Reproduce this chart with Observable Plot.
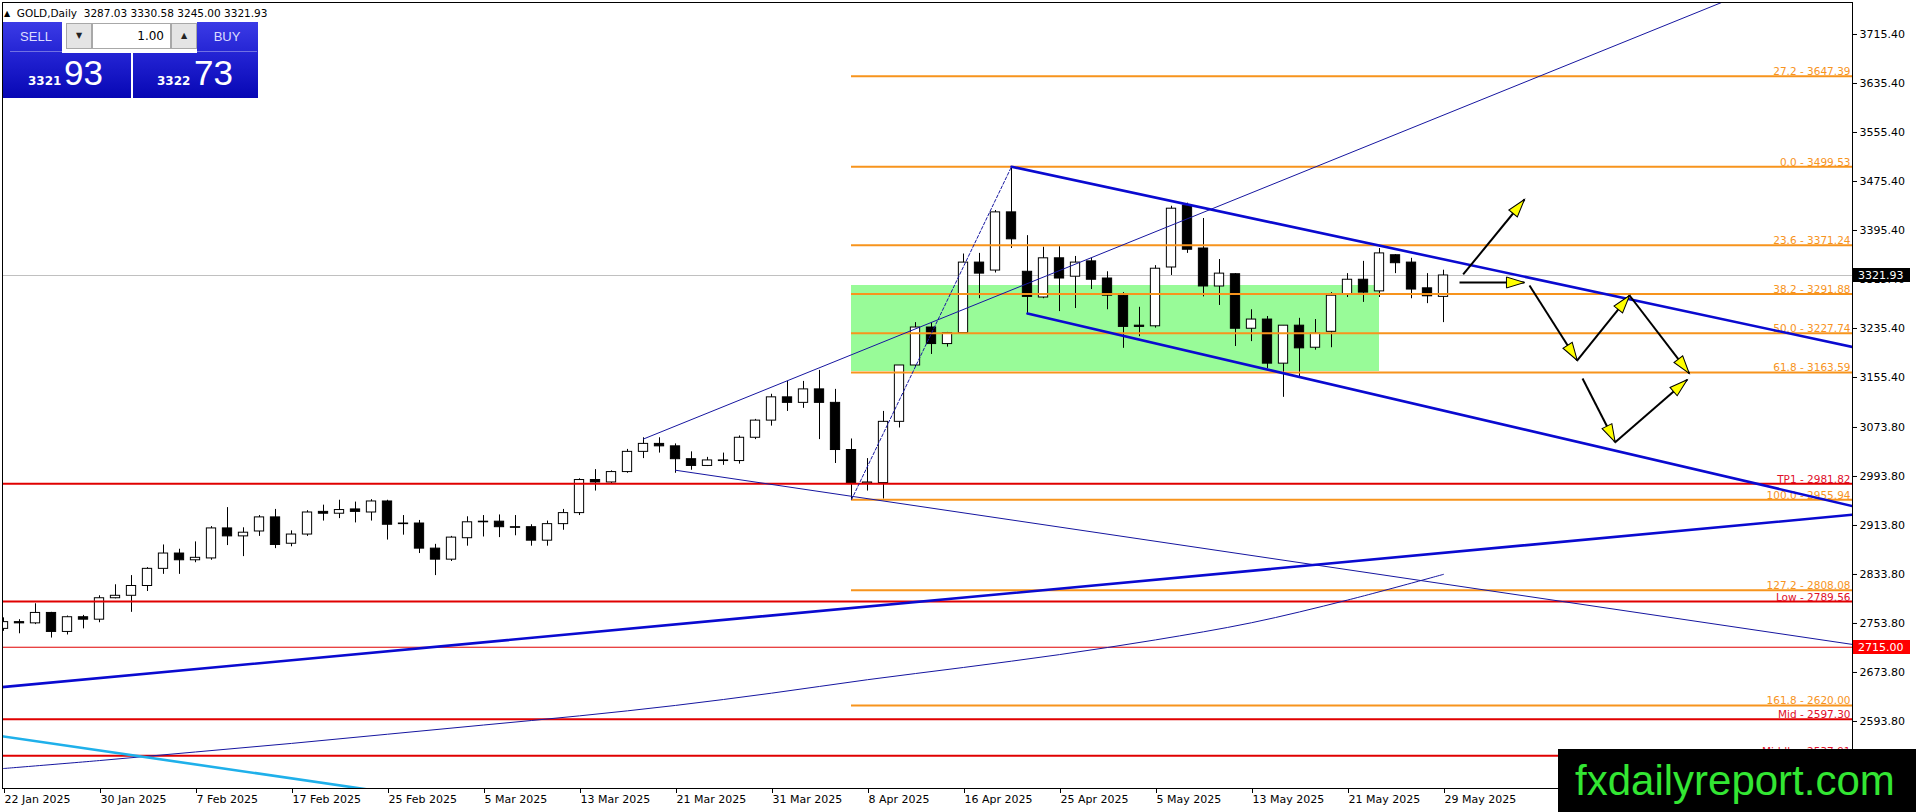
<!DOCTYPE html>
<html><head><meta charset="utf-8">
<script src="https://cdn.jsdelivr.net/npm/d3@7"></script>
<script src="https://cdn.jsdelivr.net/npm/@observablehq/plot@0.6"></script>
<style>
body{margin:0;background:#fff;font-family:"DejaVu Sans",sans-serif;}
#wrap{position:relative;width:1916px;height:812px;overflow:hidden;background:#fff;}
#wrap svg{position:absolute;left:0;top:0;}
.ov{position:absolute;box-sizing:border-box;}
.blk{background:linear-gradient(to bottom,#3b3be6 0%,#2222d2 45%,#0707b4 100%);}
.btn{color:#dcdcff;font-family:"Liberation Sans",sans-serif;font-size:13px;text-align:center;line-height:30px;border-bottom:1px solid rgba(255,255,255,0.35);}
.sp{background:#e4e4e4;border:1px solid #a8a8a8;font-size:8px;color:#222;text-align:center;line-height:24px;}
.small{color:#fff;font-weight:bold;font-size:12px;font-family:"DejaVu Sans",sans-serif;}
.big{color:#fff;font-size:35px;font-family:"Liberation Sans",sans-serif;}
</style></head>
<body><div id="wrap"></div>
<script>
// ---------- data ----------
const dates = [
"22 Jan 2025","23 Jan 2025","24 Jan 2025","27 Jan 2025","28 Jan 2025","29 Jan 2025","30 Jan 2025","31 Jan 2025",
"3 Feb 2025","4 Feb 2025","5 Feb 2025","6 Feb 2025","7 Feb 2025","10 Feb 2025","11 Feb 2025","12 Feb 2025","13 Feb 2025","14 Feb 2025",
"17 Feb 2025","18 Feb 2025","19 Feb 2025","20 Feb 2025","21 Feb 2025","24 Feb 2025","25 Feb 2025","26 Feb 2025","27 Feb 2025","28 Feb 2025",
"3 Mar 2025","4 Mar 2025","5 Mar 2025","6 Mar 2025","7 Mar 2025","10 Mar 2025","11 Mar 2025","12 Mar 2025","13 Mar 2025","14 Mar 2025",
"17 Mar 2025","18 Mar 2025","19 Mar 2025","20 Mar 2025","21 Mar 2025","24 Mar 2025","25 Mar 2025","26 Mar 2025","27 Mar 2025","28 Mar 2025","31 Mar 2025",
"1 Apr 2025","2 Apr 2025","3 Apr 2025","4 Apr 2025","7 Apr 2025","8 Apr 2025","9 Apr 2025","10 Apr 2025","11 Apr 2025","14 Apr 2025","15 Apr 2025",
"16 Apr 2025","17 Apr 2025","21 Apr 2025","22 Apr 2025","23 Apr 2025","24 Apr 2025","25 Apr 2025","28 Apr 2025","29 Apr 2025","30 Apr 2025",
"1 May 2025","2 May 2025","5 May 2025","6 May 2025","7 May 2025","8 May 2025","9 May 2025","12 May 2025","13 May 2025","14 May 2025",
"15 May 2025","16 May 2025","19 May 2025","20 May 2025","21 May 2025","22 May 2025","23 May 2025","26 May 2025","27 May 2025","28 May 2025","29 May 2025"];

const open = [
2745,2756,2754,2771,2740,2764,2760,2795,2799,2815,
2843,2868,2857,2860,2909,2896,2904,2927,2884,2899,
2936,2933,2940,2935,2953,2916,2917,2876,2858,2893,
2919,2920,2911,2911,2889,2916,2934,2988,2984,3001,
3034,3047,3043,3022,3011,3020,3019,3057,3085,3123,
3114,3136,3114,3037,2982,2983,3083,3175,3237,3210,
3228,3343,3330,3425,3328,3286,3350,3320,3345,3317,
3289,3240,3239,3335,3436,3366,3304,3324,3235,3250,
3178,3240,3204,3230,3291,3315,3296,3355,3343,3301,
3287.03];
const high = [
2763,2760,2786,2772,2766,2767,2799,2817,2832,2845,
2882,2875,2887,2912,2943,2910,2930,2940,2905,2938,
2947,2955,2952,2956,2955,2930,2922,2883,2896,2928,
2930,2931,2930,2915,2921,2940,2990,3005,3003,3038,
3057,3057,3047,3034,3025,3032,3060,3087,3128,3149,
3149,3167,3136,3055,3023,3100,3175,3245,3245,3229,
3357,3358,3428,3499.53,3387,3368,3369,3353,3350,3328,
3294,3270,3338,3435,3440,3415,3348,3325,3266,3255,
3240,3252,3250,3294,3325,3345,3366,3356,3350,3325,
3330.58];
const low = [
2741,2737,2752,2730,2735,2745,2755,2794,2772,2806,
2834,2834,2853,2857,2881,2863,2896,2876,2879,2896,
2921,2925,2918,2921,2890,2898,2868,2832,2855,2880,
2895,2894,2897,2880,2880,2906,2930,2970,2982,2999,
3023,3032,2999,3004,3010,3012,3014,3054,3076,3100,
3105,3054,3015,2955.94,2970,2957,3073,3172,3193,3205,
3228,3284,3326,3366,3258,3284,3263,3268,3299,3266,
3203,3222,3236,3322,3358,3287,3273,3206,3214,3170,
3123,3155,3200,3204,3286,3278,3286,3325,3284,3276,
3245.00];
const close = [
2756,2754,2771,2740,2764,2760,2795,2799,2815,2843,
2868,2857,2861,2909,2896,2902,2927,2882,2899,2935,
2933,2939,2936,2953,2915,2917,2876,2858,2894,2919,
2920,2911,2910,2889,2916,2934,2988,2984,3001,3034,
3047,3043,3022,3011,3020,3019,3057,3085,3123,3114,
3136,3114,3037,2982,2984,3083,3175,3237,3210,3228,
3343,3325,3425,3381,3287,3350,3317,3343,3315,3289,
3238,3238,3333,3431,3364,3304,3325,3235,3250,3178,
3240,3203,3227,3289,3315,3294,3358,3342,3299,3288,
3321.93];

const tickBars = [0,6,12,18,24,30,36,42,48,54,60,66,72,78,84,90];
const priceTicks = [3715.40,3635.40,3555.40,3475.40,3395.40,3315.40,3235.40,3155.40,3073.80,2993.80,2913.80,2833.80,2753.80,2673.80,2593.80];

const fibNames  = ["27.2","0.0","23.6","38.2","50.0","61.8","100.0","127.2","161.8"];
const fibValues = [3647.39,3499.53,3371.24,3291.88,3227.74,3163.59,2955.94,2808.08,2620.00];
const fibStartBar = 53;

const levelNames  = ["TP1","Low","","Mid","Middle"];
const levelValues = [2981.82,2789.56,2715.00,2597.30,2537.91];

const zoneBars = [53, 86];
const zonePrices = [3165.2, 3305.6];

const maBars   = [0,6,12,18,24,30,36,42,48,54,60,66,72,78,84,90];
const maValues = [2517,2530,2544,2558,2573,2588,2603,2620,2640,2662,2682,2703,2727,2755,2792,2834];

const thinRiseBars = [40, 125],      thinRisePrices = [3055, 3954];
const thinFallBars = [42, 115.56],   thinFallPrices = [3004, 2719.6];
const fibLegBars   = [53, 63],       fibLegPrices   = [2955.94, 3499.53];
const chanTopBars  = [63, 115.56],   chanTopPrices  = [3499.53, 3205.2];
const chanBotBars  = [64, 115.56],   chanBotPrices  = [3259.9, 2945.4];
const riseBars     = [-1, 116],      risePrices     = [2647.6, 2932.4];
const cyanBars     = [-1, 23],       cyanPrices     = [2573.1, 2481.9];

const arrowX1 = [91.23, 91.0, 95.375, 98.36, 101.63, 98.69, 100.73];
const arrowY1 = [3323.6, 3310.5, 3305.6, 3183.2, 3289.3, 3153.8, 3049.8];
const arrowX2 = [95.06, 95.06, 98.36, 101.63, 105.36, 100.73, 105.23];
const arrowY2 = [3446.0, 3310.5, 3183.2, 3289.3, 3162.0, 3049.8, 3151.6];

const bidPrice = 3321.93;
const askPrice = 3322.73;
const markPrice = 2715.00;
const headerText = "GOLD,Daily  3287.03 3330.58 3245.00 3321.93";

// ---------- build ----------
const W = 1916, H = 812, mL = 2, mR = 64, mT = 2, mB = 24;
const xDomain = [-0.0625, 115.5625];
const yDomain = [2484.38, 3767.64];
const kx = (W - mL - mR) / (xDomain[1] - xDomain[0]);
const ky = (H - mT - mB) / (yDomain[1] - yDomain[0]);

const bars = dates.map((d, i) => ({i, o: open[i], h: high[i], l: low[i], c: close[i]}));
const seg = (b, p) => b.map((v, k) => ({b: v, p: p[k]}));
const arrows = arrowX1.map((x1, k) => ({
  x1, y1: arrowY1[k], x2: arrowX2[k], y2: arrowY2[k],
  angle: Math.atan2((arrowX2[k] - x1) * kx, (arrowY2[k] - arrowY1[k]) * ky) * 180 / Math.PI
}));
const headSymbol = {draw(ctx) { ctx.moveTo(0, 0); ctx.lineTo(-5.5, 18); ctx.lineTo(5.5, 18); ctx.closePath(); }};

const ORANGE = "#f7941d", RED = "#e00000", THICK = "#0a0ad0", THIN = "#1616a0";

const boxMark = (value, bg) => (index, scales, values, dims) => {
  const y = Math.round(scales.y(value));
  const x0 = W - mR + 1;
  const g = d3.create("svg:g");
  g.append("rect").attr("x", x0).attr("y", y - 7).attr("width", 57).attr("height", 14).attr("fill", bg);
  g.append("text").attr("x", x0 + 5).attr("y", y + 4).attr("fill", "white").attr("text-anchor", "start")
    .attr("font-size", 11).attr("font-family", "DejaVu Sans").text(value.toFixed(2));
  return g.node();
};

const chart = Plot.plot({
  width: W, height: H, marginLeft: mL, marginRight: mR, marginTop: mT, marginBottom: mB,
  x: {type: "linear", domain: xDomain, axis: null},
  y: {type: "linear", domain: yDomain, axis: null},
  style: {fontFamily: "DejaVu Sans", fontSize: "11px", color: "black", background: "white", overflow: "visible"},
  marks: [
    Plot.rect([0], {x1: zoneBars[0], x2: zoneBars[1], y1: zonePrices[0], y2: zonePrices[1], fill: "#98fb98"}),
    Plot.ruleY([bidPrice], {stroke: "#c0c0c0", strokeWidth: 1}),
    Plot.ruleX(bars, {x: "i", y1: "l", y2: "h", stroke: "black", strokeWidth: 1, clip: true}),
    Plot.rect(bars, {x1: d => d.i - 0.29, x2: d => d.i + 0.29, y1: "o", y2: "c",
      fill: d => d.c >= d.o ? "white" : "black", stroke: "black", strokeWidth: 1, clip: true}),
    Plot.ruleY(fibValues, {x1: fibStartBar, x2: xDomain[1], stroke: ORANGE, strokeWidth: 2}),
    Plot.ruleY(levelValues.filter((v, k) => levelNames[k] !== ""), {stroke: RED, strokeWidth: 2}),
    Plot.ruleY(levelValues.filter((v, k) => levelNames[k] === ""), {stroke: RED, strokeWidth: 1}),
    Plot.text(fibValues, {y: d => d, text: (d, k) => `${fibNames[k]} - ${d.toFixed(2)}`, frameAnchor: "right",
      textAnchor: "end", lineAnchor: "bottom", dx: -2, dy: -1, fill: ORANGE, fontSize: 10.5}),
    Plot.text(levelValues.filter((v, k) => levelNames[k] !== ""), {y: d => d,
      text: d => `${levelNames[levelValues.indexOf(d)]} - ${d.toFixed(2)}`, frameAnchor: "right",
      textAnchor: "end", lineAnchor: "bottom", dx: -2, dy: -1, fill: "#e0102a", fontSize: 10.5}),
    Plot.line(seg(maBars, maValues), {x: "b", y: "p", stroke: THIN, strokeWidth: 1, curve: "catmull-rom", clip: true}),
    Plot.line(seg(thinRiseBars, thinRisePrices), {x: "b", y: "p", stroke: THIN, strokeWidth: 1, clip: true}),
    Plot.line(seg(thinFallBars, thinFallPrices), {x: "b", y: "p", stroke: THIN, strokeWidth: 1, clip: true}),
    Plot.line(seg(fibLegBars, fibLegPrices), {x: "b", y: "p", stroke: THIN, strokeWidth: 1, strokeDasharray: "3,2", clip: true}),
    Plot.line(seg(chanTopBars, chanTopPrices), {x: "b", y: "p", stroke: THICK, strokeWidth: 2.6, clip: true}),
    Plot.line(seg(chanBotBars, chanBotPrices), {x: "b", y: "p", stroke: THICK, strokeWidth: 2.6, clip: true}),
    Plot.line(seg(riseBars, risePrices), {x: "b", y: "p", stroke: THICK, strokeWidth: 2.6, clip: true}),
    Plot.line(seg(cyanBars, cyanPrices), {x: "b", y: "p", stroke: "#1fb0ea", strokeWidth: 2.6, clip: true}),
    Plot.link(arrows, {x1: "x1", y1: "y1", x2: "x2", y2: "y2", stroke: "black", strokeWidth: 2}),
    Plot.dot(arrows, {x: "x2", y: "y2", symbol: headSymbol, r: 5, rotate: "angle", fill: "#ffff00", stroke: "black", strokeWidth: 1}),
    Plot.frame({stroke: "black", strokeWidth: 1}),
    Plot.axisY({anchor: "right", ticks: priceTicks, tickFormat: d => d.toFixed(2), tickSize: 4, tickPadding: 3, fontSize: 11, label: null}),
    Plot.axisX({anchor: "bottom", ticks: tickBars, tickFormat: i => dates[i], tickSize: 5, tickPadding: 2,
      textAnchor: "start", dx: 1, fontSize: 11, label: null}),
    boxMark(bidPrice, "black"),
    boxMark(markPrice, "#ff0000")
  ]
});

const wrap = document.getElementById("wrap");
wrap.appendChild(chart);

// header + one-click panel + watermark (HTML overlays)
const sellParts = [String(Math.floor(bidPrice)), String(Math.round((bidPrice % 1) * 100))];
const buyParts = [String(Math.floor(askPrice)), String(Math.round((askPrice % 1) * 100))];
wrap.insertAdjacentHTML("beforeend", `
<div class="ov" style="left:4px;top:6px;font-size:10.5px;white-space:pre;color:#000;line-height:14px;"><span style="font-size:8px;position:relative;top:-1px;">▲</span>  ${headerText}</div>
<div class="ov blk" style="left:3px;top:22px;width:128px;height:76px;"></div>
<div class="ov blk" style="left:133px;top:22px;width:125px;height:76px;"></div>
<div class="ov" style="left:62px;top:22px;width:135px;height:31px;background:#fff;"></div>
<div class="ov btn" style="left:10px;top:22px;width:52px;height:30px;">SELL</div>
<div class="ov btn" style="left:197px;top:22px;width:60px;height:30px;">BUY</div>
<div class="ov sp" style="left:66px;top:23px;width:26px;height:26px;">▼</div>
<div class="ov" style="left:92px;top:23px;width:79px;height:26px;background:#fff;border:1px solid #a8a8a8;font-size:12px;text-align:right;padding-right:6px;line-height:24px;color:#000;">1.00</div>
<div class="ov sp" style="left:171px;top:23px;width:26px;height:26px;">▲</div>
<div class="ov small" style="left:28px;top:74px;">${sellParts[0]}</div>
<div class="ov big" style="left:64px;top:53px;">${sellParts[1]}</div>
<div class="ov small" style="left:157px;top:74px;">${buyParts[0]}</div>
<div class="ov big" style="left:194px;top:53px;">${buyParts[1]}</div>
<div class="ov" style="left:1558px;top:749px;width:358px;height:63px;background:#000;color:#33e633;font-family:'Liberation Sans',sans-serif;font-size:42px;line-height:63px;padding-left:17px;white-space:nowrap;">fxdailyreport.com</div>
`);
</script>
</body></html>
